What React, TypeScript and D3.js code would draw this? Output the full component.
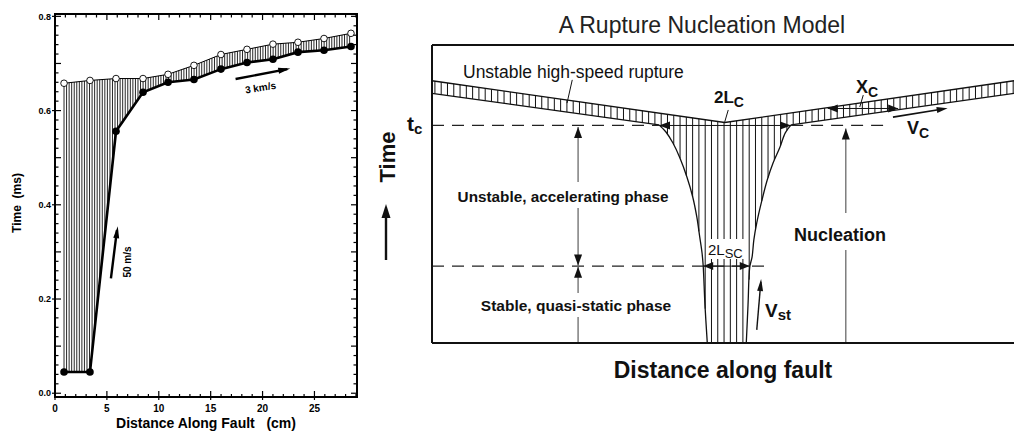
import React from "react";
import * as d3 from "d3";

// ---------- Left panel data (measured experiment) ----------
const distanceCm = [0.87, 3.37, 5.88, 8.48, 10.89, 13.39, 15.99, 18.5, 21.0, 23.41, 25.92, 28.52];
const arrivalOpen = [0.658, 0.664, 0.668, 0.668, 0.677, 0.696, 0.719, 0.73, 0.741, 0.745, 0.753, 0.764];
const arrivalFilled = [0.045, 0.045, 0.556, 0.639, 0.66, 0.666, 0.688, 0.702, 0.709, 0.724, 0.728, 0.736];
const yTickValues = [0, 0.2, 0.4, 0.6, 0.8];
const yTickLabels = ["0.0", "0.2", "0.4", "0.6", "0.8"];
const xTickValues = [0, 5, 10, 15, 20, 25];
const xTickLabels = ["0", "5", "10", "15", "20", "25"];
const arrow50 = [[5.39, 0.244], [5.97, 0.346]];
const arrow3k = [[17.4, 0.667], [22.38, 0.688]];

// ---------- Right panel schematic (abstract units 0..100) ----------
const frontTop = [{ u: 0, v: 88 }, { u: 50.3, v: 74 }, { u: 100, v: 88 }];
const bandWidth = 4.2;
const tC = 73;
const tSC = 25.8;
const nucleationLeft = [
  { u: 39.0, v: 73.2 }, { u: 40.2, v: 70.8 }, { u: 41.4, v: 67.1 }, { u: 42.6, v: 62.1 },
  { u: 43.8, v: 55.7 }, { u: 44.8, v: 49.0 }, { u: 45.5, v: 42.3 }, { u: 46.0, v: 35.6 },
  { u: 46.4, v: 30.2 }, { u: 46.6, v: 25.8 }, { u: 46.9, v: 12.8 }, { u: 47.3, v: 0 },
];
const nucleationRight = [
  { u: 61.7, v: 73.2 }, { u: 60.7, v: 70.5 }, { u: 59.8, v: 65.8 }, { u: 58.6, v: 60.4 },
  { u: 57.6, v: 54.7 }, { u: 56.7, v: 48.0 }, { u: 55.8, v: 40.3 }, { u: 55.3, v: 34.6 },
  { u: 55.0, v: 28.9 }, { u: 54.6, v: 25.5 }, { u: 54.3, v: 12.8 }, { u: 54.0, v: 0 },
];
const hatchStep = 1.08;

function interp(xs: number[], ys: number[], x: number) {
  const n = xs.length;
  if (x <= xs[0]) return ys[0];
  if (x >= xs[n - 1]) return ys[n - 1];
  for (let i = 0; i < n - 1; i++) {
    if (x >= xs[i] && x <= xs[i + 1]) {
      const t = (x - xs[i]) / (xs[i + 1] - xs[i] || 1);
      return ys[i] + t * (ys[i + 1] - ys[i]);
    }
  }
  return ys[n - 1];
}

function head(x1: number, y1: number, x2: number, y2: number, len = 9, w = 7) {
  const a = Math.atan2(y2 - y1, x2 - x1);
  const bx = x2 - len * Math.cos(a), by = y2 - len * Math.sin(a);
  const px = -Math.sin(a) * (w / 2), py = Math.cos(a) * (w / 2);
  return `${x2},${y2} ${bx + px},${by + py} ${bx - px},${by - py}`;
}

const FONT = "'Liberation Sans', Arial, Helvetica, sans-serif";

function LeftPanel() {
  const x = d3.scaleLinear().domain([0, 29.1]).range([55, 357]);
  const y = d3.scaleLinear().domain([-0.008, 0.805]).range([397, 14]);
  const [x0, x1] = x.range();
  const [yb, yt] = y.range();
  const pxs = distanceCm.map((d) => x(d));
  const topY = arrivalOpen.map((d) => y(d));
  const botY = arrivalFilled.map((d) => y(d));
  const hatches: JSX.Element[] = [];
  for (let p = pxs[0]; p <= pxs[pxs.length - 1] + 0.01; p += 2.55) {
    hatches.push(
      <line key={p} x1={p} x2={p} y1={interp(pxs, topY, p)} y2={interp(pxs, botY, p)} stroke="#000" strokeWidth={0.85} />
    );
  }
  const line = d3.line<number>().x((_, i) => pxs[i]).y((d) => d);
  const ticks: JSX.Element[] = [];
  for (let c = 0; c <= 29; c++) {
    const big = c % 5 === 0;
    ticks.push(<line key={"b" + c} x1={x(c)} x2={x(c)} y1={yb + (big ? 3 : 0)} y2={yb - (big ? 6 : 3)} stroke="#000" strokeWidth={1.2} />);
    ticks.push(<line key={"t" + c} x1={x(c)} x2={x(c)} y1={yt} y2={yt + (big ? 6 : 3.5)} stroke="#000" strokeWidth={1.2} />);
  }
  for (let k = 0; k <= 40; k++) {
    const v = k * 0.02;
    const big = k % 5 === 0;
    const lab = k % 10 === 0;
    ticks.push(<line key={"l" + k} x1={x0 - (lab ? 3 : 0)} x2={x0 + (big ? 6 : 3.5)} y1={y(v)} y2={y(v)} stroke="#000" strokeWidth={1.2} />);
    ticks.push(<line key={"r" + k} x1={x1} x2={x1 - (big ? 6 : 3.5)} y1={y(v)} y2={y(v)} stroke="#000" strokeWidth={1.2} />);
  }
  const a50 = arrow50.map(([d, t]) => [x(d), y(t)]);
  const a3k = arrow3k.map(([d, t]) => [x(d), y(t)]);
  return (
    <g fontFamily={FONT} fontWeight="bold">
      {hatches}
      <path d={line(topY) || ""} fill="none" stroke="#000" strokeWidth={1} />
      <path d={line(botY) || ""} fill="none" stroke="#000" strokeWidth={2.6} />
      {pxs.map((p, i) => (
        <circle key={"o" + i} cx={p} cy={topY[i]} r={3.3} fill="#fff" stroke="#000" strokeWidth={0.9} />
      ))}
      {pxs.map((p, i) => (
        <circle key={"f" + i} cx={p} cy={botY[i]} r={3.8} fill="#000" />
      ))}
      <rect x={x0} y={yt} width={x1 - x0} height={yb - yt} fill="none" stroke="#000" strokeWidth={2} />
      {ticks}
      {yTickValues.map((v, i) => (
        <text key={"yl" + i} x={x0 - 4} y={y(v) + 3.2} fontSize={9} textAnchor="end">{yTickLabels[i]}</text>
      ))}
      {xTickValues.map((v, i) => (
        <text key={"xl" + i} x={x(v)} y={412} fontSize={10} textAnchor="middle">{xTickLabels[i]}</text>
      ))}
      <text transform="translate(21,203) rotate(-90)" fontSize={12} textAnchor="middle" style={{ whiteSpace: "pre" }}>{"Time  (ms)"}</text>
      <text x={206} y={428} fontSize={14} textAnchor="middle" style={{ whiteSpace: "pre" }}>{"Distance Along Fault   (cm)"}</text>
      <line x1={a50[0][0]} y1={a50[0][1]} x2={a50[1][0]} y2={a50[1][1]} stroke="#000" strokeWidth={2.4} />
      <polygon points={head(a50[0][0], a50[0][1], a50[1][0] + 0.8, a50[1][1] - 4, 12, 6)} fill="#000" />
      <text transform="translate(131,262) rotate(-90)" fontSize={10} textAnchor="middle">50 m/s</text>
      <line x1={a3k[0][0]} y1={a3k[0][1]} x2={a3k[1][0]} y2={a3k[1][1]} stroke="#000" strokeWidth={2.4} />
      <polygon points={head(a3k[0][0], a3k[0][1], a3k[1][0] + 3, a3k[1][1] - 0.6, 12, 6)} fill="#000" />
      <text transform="translate(261,91) rotate(-9)" fontSize={10} textAnchor="middle">3 km/s</text>
    </g>
  );
}

function RightPanel() {
  const x = d3.scaleLinear().domain([0, 100]).range([432, 1014]);
  const t = d3.scaleLinear().domain([0, 100]).range([343, 45]);
  const fu = frontTop.map((d) => d.u), fv = frontTop.map((d) => d.v);
  const topAt = (u: number) => interp(fu, fv, u);
  const L0 = nucleationLeft[0], R0 = nucleationRight[0];
  const leftBandBottom = [{ u: 0, v: frontTop[0].v - bandWidth }, L0];
  const rightBandBottom = [R0, { u: 100, v: frontTop[2].v - bandWidth }];
  const lu = nucleationLeft.map((d) => d.u), lv = nucleationLeft.map((d) => d.v);
  const ru = nucleationRight.map((d) => d.u).reverse(), rv = nucleationRight.map((d) => d.v).reverse();
  const bottomAt = (u: number) => {
    if (u <= L0.u) return interp([0, L0.u], [leftBandBottom[0].v, L0.v], u);
    if (u >= R0.u) return interp([R0.u, 100], [R0.v, rightBandBottom[1].v], u);
    const lastL = nucleationLeft[nucleationLeft.length - 1];
    const lastR = nucleationRight[nucleationRight.length - 1];
    if (u <= lastL.u) return interp(lu, lv, u);
    if (u >= lastR.u) return interp(ru, rv, u);
    return 0;
  };
  const hatches: JSX.Element[] = [];
  for (let u = 0.5; u < 100; u += hatchStep) {
    hatches.push(
      <line key={u} x1={x(u)} x2={x(u)} y1={t(topAt(u))} y2={t(bottomAt(u))} stroke="#111" strokeWidth={1} />
    );
  }
  const ln = d3.line<{ u: number; v: number }>().x((d) => x(d.u)).y((d) => t(d.v));
  const curve = d3.line<{ u: number; v: number }>().x((d) => x(d.u)).y((d) => t(d.v)).curve(d3.curveCatmullRom);
  const gray = "#6a6a6a";
  const arrowV = (u: number, vFrom: number, vTo: number, len = 11, w = 8, color = "#111") => (
    <polygon points={head(x(u), t(vFrom), x(u), t(vTo), len, w)} fill={color} />
  );
  const sub = { fontSize: 14 };
  return (
    <g fontFamily={FONT} fill="#111">
      <text x={702} y={33} fontSize={23} textAnchor="middle" fill="#222">A Rupture Nucleation Model</text>
      {hatches}
      <path d={ln(frontTop) || ""} fill="none" stroke="#111" strokeWidth={1.3} />
      <path d={ln(leftBandBottom) || ""} fill="none" stroke="#111" strokeWidth={1.3} />
      <path d={ln(rightBandBottom) || ""} fill="none" stroke="#111" strokeWidth={1.3} />
      <path d={curve(nucleationLeft) || ""} fill="none" stroke="#111" strokeWidth={1.3} />
      <path d={curve(nucleationRight) || ""} fill="none" stroke="#111" strokeWidth={1.3} />
      {/* dashed reference lines */}
      <line x1={x(0)} x2={x(L0.u)} y1={t(tC)} y2={t(tC)} stroke="#222" strokeWidth={1.3} strokeDasharray="12,8" />
      <line x1={x(R0.u)} x2={x(78.5)} y1={t(tC)} y2={t(tC)} stroke="#222" strokeWidth={1.3} strokeDasharray="12,8" />
      <line x1={x(0)} x2={x(58)} y1={t(tSC)} y2={t(tSC)} stroke="#222" strokeWidth={1.3} strokeDasharray="12,8" />
      {/* 2Lc double arrow */}
      <line x1={x(L0.u)} x2={x(R0.u)} y1={t(tC)} y2={t(tC)} stroke="#111" strokeWidth={1} />
      <polygon points={head(x(L0.u) + 20, t(tC), x(L0.u), t(tC), 11, 8)} />
      <polygon points={head(x(R0.u) - 20, t(tC), x(R0.u), t(tC), 11, 8)} />
      {/* 2Lsc double arrow */}
      <line x1={x(46.6)} x2={x(54.6)} y1={t(tSC)} y2={t(tSC)} stroke="#111" strokeWidth={1} />
      <polygon points={head(x(50), t(tSC), x(46.6), t(tSC), 10, 8)} />
      <polygon points={head(x(51), t(tSC), x(54.6), t(tSC), 10, 8)} />
      {/* gray phase line */}
      <line x1={x(25.1)} x2={x(25.1)} y1={t(tC - 0.5)} y2={t(54)} stroke={gray} strokeWidth={1.3} />
      <line x1={x(25.1)} x2={x(25.1)} y1={t(45.3)} y2={t(tSC)} stroke={gray} strokeWidth={1.3} />
      <line x1={x(25.1)} x2={x(25.1)} y1={t(tSC)} y2={t(16.8)} stroke={gray} strokeWidth={1.3} />
      <line x1={x(25.1)} x2={x(25.1)} y1={t(8.7)} y2={t(0)} stroke={gray} strokeWidth={1.3} />
      {arrowV(25.1, 60, tC - 0.5)}
      {arrowV(25.1, 35, tSC + 0.2)}
      {arrowV(25.1, 15, tSC - 0.2)}
      {/* nucleation line */}
      <line x1={x(71.1)} x2={x(71.1)} y1={t(tC - 1)} y2={t(43.6)} stroke={gray} strokeWidth={1.3} />
      <line x1={x(71.1)} x2={x(71.1)} y1={t(31.2)} y2={t(0)} stroke={gray} strokeWidth={1.3} />
      {arrowV(71.1, 60, tC - 1)}
      {/* Xc arrow */}
      <line x1={x(68)} x2={x(80.1)} y1={t(78.7)} y2={t(78.7)} stroke="#111" strokeWidth={1} />
      <polygon points={head(x(74), t(78.7), x(68), t(78.7), 10, 8)} />
      <polygon points={head(x(74), t(78.7), x(80.1), t(78.7), 10, 8)} />
      <line x1={x(74.1)} y1={t(83.2)} x2={x(73.5)} y2={t(79.2)} stroke="#111" strokeWidth={1} />
      {/* Vc arrow */}
      <line x1={x(79.2)} y1={t(75.8)} x2={x(87.8)} y2={t(78.5)} stroke="#111" strokeWidth={1.6} />
      <polygon points={head(x(79.2), t(75.8), x(88.6), t(78.75), 11, 6)} />
      {/* Vst arrow */}
      <line x1={x(55.8)} y1={t(4.4)} x2={x(56.5)} y2={t(20.5)} stroke="#111" strokeWidth={1.4} />
      <polygon points={head(x(55.8), t(4.4), x(56.55), t(21.5), 12, 6)} />
      {/* leader lines */}
      <line x1={x(24.1)} y1={t(88.3)} x2={x(23.2)} y2={t(80.5)} stroke="#111" strokeWidth={1} />
      <line x1={x(50.9)} y1={t(78.2)} x2={x(50.3)} y2={t(74.2)} stroke="#111" strokeWidth={1} />
      {/* frame */}
      <line x1={x(0)} x2={x(100)} y1={t(100)} y2={t(100)} stroke="#111" strokeWidth={2} />
      <line x1={x(0)} x2={x(100)} y1={t(0)} y2={t(0)} stroke="#111" strokeWidth={2} />
      <line x1={x(0)} x2={x(0)} y1={t(100)} y2={t(0)} stroke="#111" strokeWidth={2} />
      {/* Time axis arrow */}
      <line x1={386} x2={386} y1={260} y2={214} stroke="#111" strokeWidth={2.4} />
      <polygon points={head(386, 260, 386, 204, 14, 9)} />
      {/* labels */}
      <text x={463} y={78} fontSize={17.5}>Unstable high-speed rupture</text>
      <text x={407} y={131} fontSize={21} fontWeight="bold">t<tspan fontSize={15} dy={3}>c</tspan></text>
      <text transform="translate(395,157) rotate(-90)" fontSize={22} fontWeight="bold" textAnchor="middle">Time</text>
      <text x={563} y={202} fontSize={15.3} fontWeight="bold" textAnchor="middle">Unstable, accelerating phase</text>
      <text x={576} y={311} fontSize={15.5} fontWeight="bold" textAnchor="middle">Stable, quasi-static phase</text>
      <text x={714} y={103} fontSize={17} fontWeight="bold">2L<tspan {...sub} dy={4}>C</tspan></text>
      <text x={856} y={93} fontSize={18} fontWeight="bold">X<tspan {...sub} dy={4}>C</tspan></text>
      <text x={907} y={134} fontSize={18} fontWeight="bold">V<tspan {...sub} dy={4}>C</tspan></text>
      <rect x={707} y={239} width={40} height={20} fill="#fff" />
      <text x={708} y={255} fontSize={15}>2L<tspan fontSize={13} dy={3}>SC</tspan></text>
      <text x={765} y={317} fontSize={19} fontWeight="bold">V<tspan fontSize={15} dy={3}>st</tspan></text>
      <text x={840} y={241} fontSize={18} fontWeight="bold" textAnchor="middle">Nucleation</text>
      <text x={723} y={378} fontSize={23} fontWeight="bold" textAnchor="middle">Distance along fault</text>
    </g>
  );
}

export default function App() {
  return (
    <svg width={1014} height={435} viewBox="0 0 1014 435" style={{ position: "absolute", left: 0, top: 0, background: "#fff" }}>
      <rect x={0} y={0} width={1014} height={435} fill="#fff" />
      <LeftPanel />
      <RightPanel />
    </svg>
  );
}
